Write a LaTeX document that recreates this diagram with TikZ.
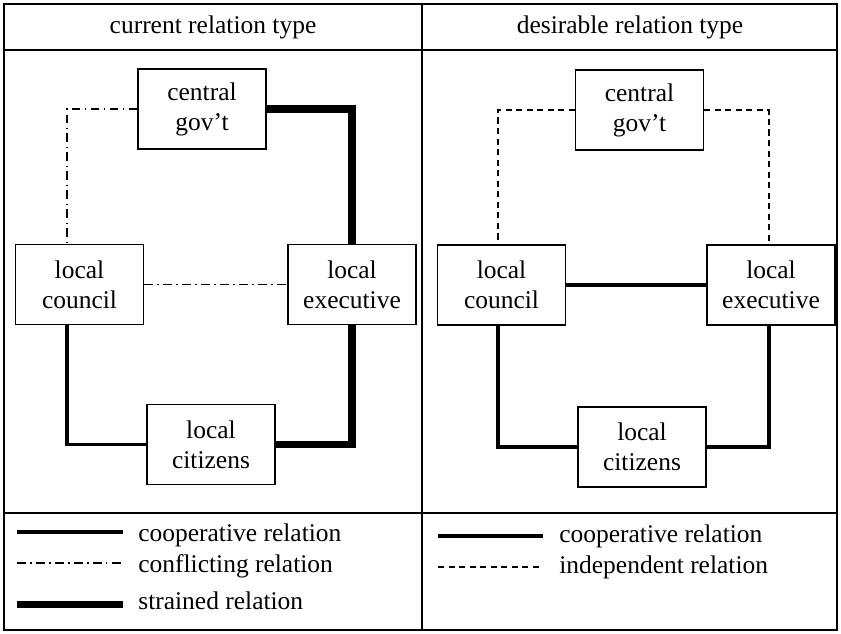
\documentclass[tikz,border=0pt]{standalone}
\usepackage{fontspec}
\setmainfont{Liberation Serif}
\usepackage{tikz}
\usetikzlibrary{calc,positioning}
\tikzset{
  actor/.style={draw, line width=0.7pt, minimum width=2.56cm, minimum height=1.6cm, align=center, inner sep=1pt},
  lbl/.style={anchor=west, inner sep=0pt},
  coop/.style={line width=2.2pt},
  strained/.style={line width=4pt},
  conflict/.style={line width=0.9pt, dash pattern=on 5pt off 2.5pt on 0.8pt off 2.5pt},
  indep/.style={line width=0.9pt, dash pattern=on 3.5pt off 2.5pt},
  every picture/.style={line cap=butt, line join=miter}
}

\begin{document}
\begin{tikzpicture}[x=0.02cm, y=-0.02cm, font=\fontsize{14.5}{17}\selectfont]
  \useasboundingbox (0,0) rectangle (841,633);
  \draw[line width=0.8pt] (4,4) rectangle (837,630);
  \draw[line width=0.8pt] (4,50) -- (837,50);
  \draw[line width=0.8pt] (4,513) -- (837,513);
  \draw[line width=0.8pt] (422,4) -- (422,630);
  \node (head1) at (213,27) {current relation type};
  \node (head2) at (630,27) {desirable relation type};
  \node[actor] (gov1) at (202,109) {central\\gov't};
  \node[actor] (council1) at (79.5,284.5) {local\\council};
  \node[actor] (exec1) at (352,284.5) {local\\executive};
  \node[actor] (cit1) at (211,444.5) {local\\citizens};
  \draw[conflict] (gov1.west) -| ([xshift=-0.25cm]council1.north);
  \draw[strained] (gov1.east) -| (exec1.north);
  \draw[conflict] (council1.east) -- (exec1.west);
  \draw[coop] ([xshift=-0.25cm]council1.south) |- (cit1.west);
  \draw[strained] (exec1.south) |- (cit1.east);
  \node[actor] (gov2) at (639.5,110) {central\\gov't};
  \node[actor] (council2) at (501.5,285) {local\\council};
  \node[actor] (exec2) at (771,285) {local\\executive};
  \node[actor] (cit2) at (642,447) {local\\citizens};
  \draw[indep] (gov2.west) -| ([xshift=-0.07cm]council2.north);
  \draw[indep] (gov2.east) -| ([xshift=-0.04cm]exec2.north);
  \draw[coop] (council2.east) -- (exec2.west);
  \draw[coop] ([xshift=-0.07cm]council2.south) |- (cit2.west);
  \draw[coop] ([xshift=-0.04cm]exec2.south) |- (cit2.east);
  \node[lbl] (key1) at (138,535) {cooperative relation};
  \node[lbl] (key2) at (138,566) {conflicting relation};
  \node[lbl] (key3) at (138,601) {strained relation};
  \node[lbl] (key4) at (559,536) {cooperative relation};
  \node[lbl] (key5) at (559,567) {independent relation};
  \draw[coop] (17,532) -- (123,532);
  \draw[conflict] (17,563) -- (123,563);
  \draw[strained] (17,604) -- (123,604);
  \draw[coop] (438,536) -- (543,536);
  \draw[indep] (438,567) -- (543,567);
\end{tikzpicture}
\end{document}
